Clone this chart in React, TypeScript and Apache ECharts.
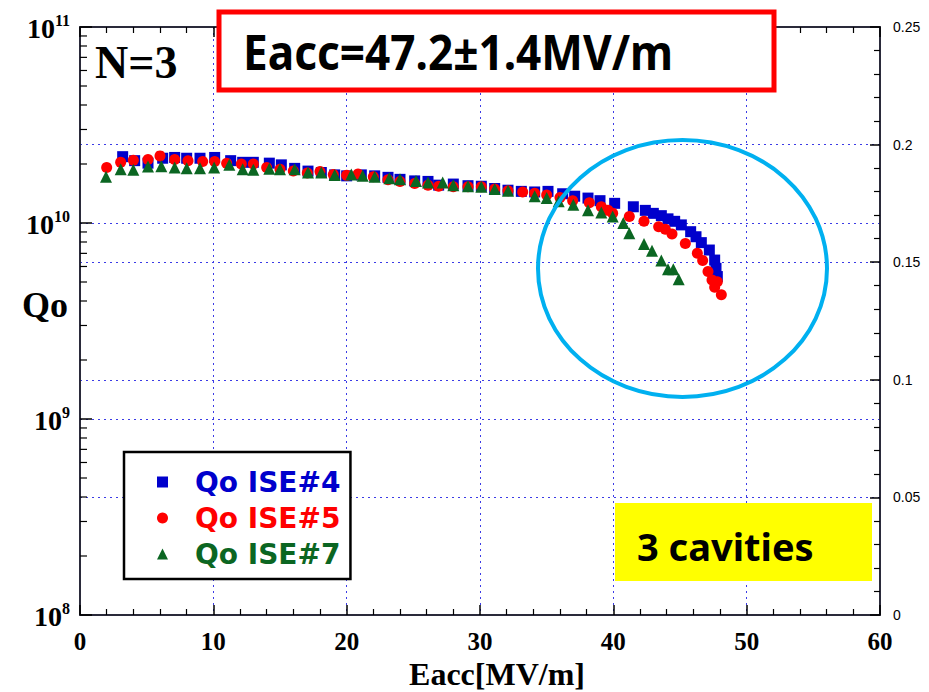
import React, { useEffect, useRef } from "react";
import * as echarts from "echarts";

// ---- Data (Eacc in MV/m, Qo in units of 1e10) ----
const eaccISE4 = [3.2, 4.1, 5.1, 6.2, 7.1, 8.0, 9.0, 10.1, 11.3, 12.2, 13.0, 14.2, 15.1, 16.1, 17.1, 18.1, 19.1, 20.0, 21.1, 22.1, 23.1, 24.0, 25.1, 26.1, 26.9, 28.0, 29.1, 30.1, 31.1, 32.1, 33.1, 34.1, 35.1, 36.2, 37.1, 38.1, 39.0, 40.1, 41.5, 42.4, 43.0, 43.6, 44.1, 44.6, 45.1, 45.8, 46.2, 46.6, 47.2, 47.6, 47.7, 47.8];
const qoISE4 = [2.18, 2.08, 2.02, 2.14, 2.16, 2.14, 2.14, 2.16, 2.08, 2.04, 2.04, 2.02, 1.98, 1.90, 1.84, 1.81, 1.76, 1.74, 1.76, 1.74, 1.71, 1.67, 1.64, 1.63, 1.56, 1.58, 1.55, 1.54, 1.50, 1.47, 1.45, 1.44, 1.45, 1.41, 1.37, 1.34, 1.30, 1.26, 1.21, 1.16, 1.12, 1.09, 1.05, 1.02, 0.978, 0.903, 0.851, 0.794, 0.728, 0.647, 0.587, 0.533];

const eaccISE5 = [2.0, 3.05, 4.0, 5.1, 6.0, 7.1, 8.1, 9.2, 10.1, 11.0, 12.1, 13.0, 14.0, 15.0, 16.0, 17.05, 18.0, 19.0, 20.0, 20.85, 22.0, 23.1, 24.0, 25.1, 26.1, 26.9, 28.0, 29.1, 30.1, 31.1, 32.1, 33.2, 34.1, 35.0, 36.0, 36.95, 38.2, 39.1, 39.6, 39.95, 41.2, 42.3, 43.4, 43.9, 44.4, 45.4, 46.3, 46.7, 47.1, 47.4, 47.6, 47.8, 48.1];
const qoISE5 = [1.92, 2.04, 2.09, 2.11, 2.20, 2.11, 2.08, 2.06, 2.06, 2.02, 2.00, 2.00, 1.92, 1.88, 1.84, 1.80, 1.83, 1.77, 1.75, 1.78, 1.72, 1.66, 1.63, 1.59, 1.56, 1.54, 1.53, 1.53, 1.53, 1.49, 1.46, 1.44, 1.42, 1.39, 1.35, 1.30, 1.27, 1.21, 1.16, 1.12, 1.08, 1.02, 0.958, 0.929, 0.879, 0.787, 0.700, 0.643, 0.565, 0.512, 0.470, 0.502, 0.430];

const eaccISE7 = [1.95, 3.05, 4.0, 5.1, 6.1, 7.1, 8.0, 9.0, 10.06, 11.2, 12.2, 13.0, 14.2, 15.0, 16.1, 17.1, 18.1, 19.1, 20.35, 21.2, 22.1, 23.2, 24.0, 25.2, 26.1, 27.2, 28.0, 29.1, 30.1, 31.1, 32.1, 34.1, 35.0, 35.9, 37.0, 38.1, 39.1, 39.95, 40.75, 41.2, 42.3, 42.9, 43.6, 44.1, 44.5, 44.9];
const qoISE7 = [1.72, 1.88, 1.87, 1.94, 1.95, 1.92, 1.90, 1.90, 1.92, 1.98, 1.88, 1.87, 1.89, 1.88, 1.88, 1.81, 1.81, 1.76, 1.77, 1.74, 1.72, 1.69, 1.67, 1.64, 1.61, 1.61, 1.56, 1.54, 1.53, 1.49, 1.46, 1.37, 1.34, 1.29, 1.24, 1.16, 1.13, 1.08, 1.00, 0.886, 0.781, 0.722, 0.643, 0.581, 0.581, 0.516];

const seriesNames = ["Qo ISE#4", "Qo ISE#5", "Qo ISE#7"];
const seriesColors = ["#0000cc", "#ff0000", "#0b6622"];
const rightTickLabels = ["0", "0.05", "0.1", "0.15", "0.2", "0.25"];
const logMantissas = [2, 3, 4, 5, 6, 7, 8, 9];
const logDecades = [1e8, 1e9, 1e10];

const QSCALE = 1e10;
const toPairs = (xs: number[], ys: number[]) => xs.map((x, i) => [x, ys[i] * QSCALE]);

const SERIF = '"Liberation Serif", "Times New Roman", serif';
const GRID_COLOR = "#3b3be6";

export default function App() {
  const ref = useRef<HTMLDivElement>(null);

  useEffect(() => {
    if (!ref.current) return;
    const chart = echarts.init(ref.current, undefined, { renderer: "svg" });

    const minorTickData: number[][] = [];
    logDecades.forEach((d) => logMantissas.forEach((m) => minorTickData.push([0, m * d])));

    const axisLine = { show: true, onZero: false, lineStyle: { color: "#2a2a3a", width: 2 } };
    const dotted = { show: true, lineStyle: { color: GRID_COLOR, width: 1, type: [2, 4] as any } };

    const option: any = {
      animation: false,
      backgroundColor: "#ffffff",
      grid: { left: 80, right: 49, top: 27, bottom: 77, outerBoundsMode: "none" },
      xAxis: [
        {
          type: "value", min: 0, max: 60, interval: 10, position: "bottom",
          axisLine,
          axisTick: { inside: true, length: 10, lineStyle: { color: "#000", width: 1.5 } },
          minorTick: { show: true, splitNumber: 5, length: 6, lineStyle: { color: "#000", width: 1.2 } },
          axisLabel: { margin: 15, fontFamily: SERIF, fontWeight: "bold", fontSize: 25, lineHeight: 22, color: "#000" },
          splitLine: dotted,
        },
        {
          type: "value", min: 0, max: 60, interval: 10, position: "top",
          axisLine,
          axisTick: { inside: true, length: 10, lineStyle: { color: "#000", width: 1.5 } },
          minorTick: { show: true, splitNumber: 5, length: 6, lineStyle: { color: "#000", width: 1.2 } },
          axisLabel: { show: false },
          splitLine: { show: false },
        },
      ],
      yAxis: [
        {
          type: "log", logBase: 10, min: 1e8, max: 1e11, position: "left",
          axisLine,
          axisTick: { inside: true, length: 12, lineStyle: { color: "#000", width: 1.5 } },
          axisLabel: {
            margin: 10,
            formatter: (v: number) => `{b|10}{s|${Math.round(Math.log10(v))}}`,
            rich: {
              b: { fontFamily: SERIF, fontWeight: "bold", fontSize: 28, color: "#000", lineHeight: 30, verticalAlign: "bottom" },
              s: { fontFamily: SERIF, fontWeight: "bold", fontSize: 16, color: "#000", lineHeight: 30, verticalAlign: "top" },
            },
          },
          splitLine: dotted,
        },
        {
          type: "value", min: 0, max: 0.25, interval: 0.05, position: "right",
          axisLine,
          axisTick: { inside: true, length: 10, lineStyle: { color: "#000", width: 1.5 } },
          minorTick: { show: true, splitNumber: 5, length: 6, lineStyle: { color: "#000", width: 1.2 } },
          axisLabel: {
            margin: 13, fontFamily: '"Liberation Sans", Arial, sans-serif', fontSize: 14, color: "#000",
            formatter: (v: number) => rightTickLabels[Math.round(v / 0.05)],
          },
          splitLine: dotted,
        },
      ],
      legend: {
        orient: "vertical", left: 124, top: 452,
        padding: [16, 10, 11, 33],
        itemWidth: 11, itemHeight: 11, itemGap: 8,
        borderColor: "#000", borderWidth: 2.5, backgroundColor: "#fff",
        selectedMode: false,
        textStyle: { fontFamily: '"DejaVu Sans", sans-serif', fontWeight: "bold", fontSize: 28, lineHeight: 26, padding: [0, 0, 0, 22] },
        data: [
          { name: seriesNames[0], icon: "rect", textStyle: { color: seriesColors[0] } },
          { name: seriesNames[1], icon: "circle", textStyle: { color: seriesColors[1] } },
          { name: seriesNames[2], icon: "triangle", textStyle: { color: seriesColors[2] } },
        ],
      },
      series: [
        {
          type: "custom", name: "logMinorTicks", xAxisIndex: 0, yAxisIndex: 0, clip: false, silent: true, z: 1,
          data: minorTickData,
          renderItem: (_p: any, api: any) => {
            const pt = api.coord([api.value(0), api.value(1)]);
            return { type: "line", shape: { x1: pt[0], y1: pt[1], x2: pt[0] + 7, y2: pt[1] }, style: { stroke: "#000", lineWidth: 1.2 } };
          },
        },
        { type: "scatter", name: seriesNames[0], data: toPairs(eaccISE4, qoISE4), symbol: "rect", symbolSize: 11, itemStyle: { color: seriesColors[0], opacity: 1 }, z: 3 },
        { type: "scatter", name: seriesNames[1], data: toPairs(eaccISE5, qoISE5), symbol: "circle", symbolSize: 11, itemStyle: { color: seriesColors[1], opacity: 1 }, z: 4 },
        { type: "scatter", name: seriesNames[2], data: toPairs(eaccISE7, qoISE7), symbol: "triangle", symbolSize: 12, itemStyle: { color: seriesColors[2], opacity: 1 }, z: 5 },
      ],
      graphic: [
        { type: "text", x: 497, y: 674, z: 20, style: { text: "Eacc[MV/m]", font: `bold 32px ${SERIF}`, lineHeight: 28, fill: "#000", align: "center", verticalAlign: "middle" } },
        { type: "text", x: 45, y: 305, z: 20, style: { text: "Qo", font: `bold 36px ${SERIF}`, fill: "#000", align: "center", verticalAlign: "middle" } },
        { type: "text", x: 95, y: 62, z: 20, style: { text: "N=3", font: `bold 46px ${SERIF}`, fill: "#000", verticalAlign: "middle" } },
        { type: "rect", z: 20, shape: { x: 219, y: 12, width: 555, height: 78 }, style: { fill: "#fff", stroke: "#ff0000", lineWidth: 5 } },
        { type: "text", x: 243, y: 52, scaleX: 0.92, z: 21, style: { text: "Eacc=47.2±1.4MV/m", font: 'bold 48px "Noto Sans", sans-serif', fill: "#000", verticalAlign: "middle" } },
        { type: "ellipse", z: 20, shape: { cx: 682.5, cy: 268.5, rx: 144.5, ry: 128.5 }, style: { fill: "none", stroke: "#00b0f0", lineWidth: 4 } },
        { type: "rect", z: 20, shape: { x: 615, y: 503, width: 257, height: 78 }, style: { fill: "#ffff00" } },
        { type: "text", x: 637, y: 546, z: 21, style: { text: "3 cavities", font: 'bold 38px "Noto Sans", sans-serif', fill: "#000", verticalAlign: "middle" } },
      ],
    };

    chart.setOption(option);
    return () => chart.dispose();
  }, []);

  return <div ref={ref} style={{ position: "absolute", left: 0, top: 0, width: 929, height: 692 }} />;
}
